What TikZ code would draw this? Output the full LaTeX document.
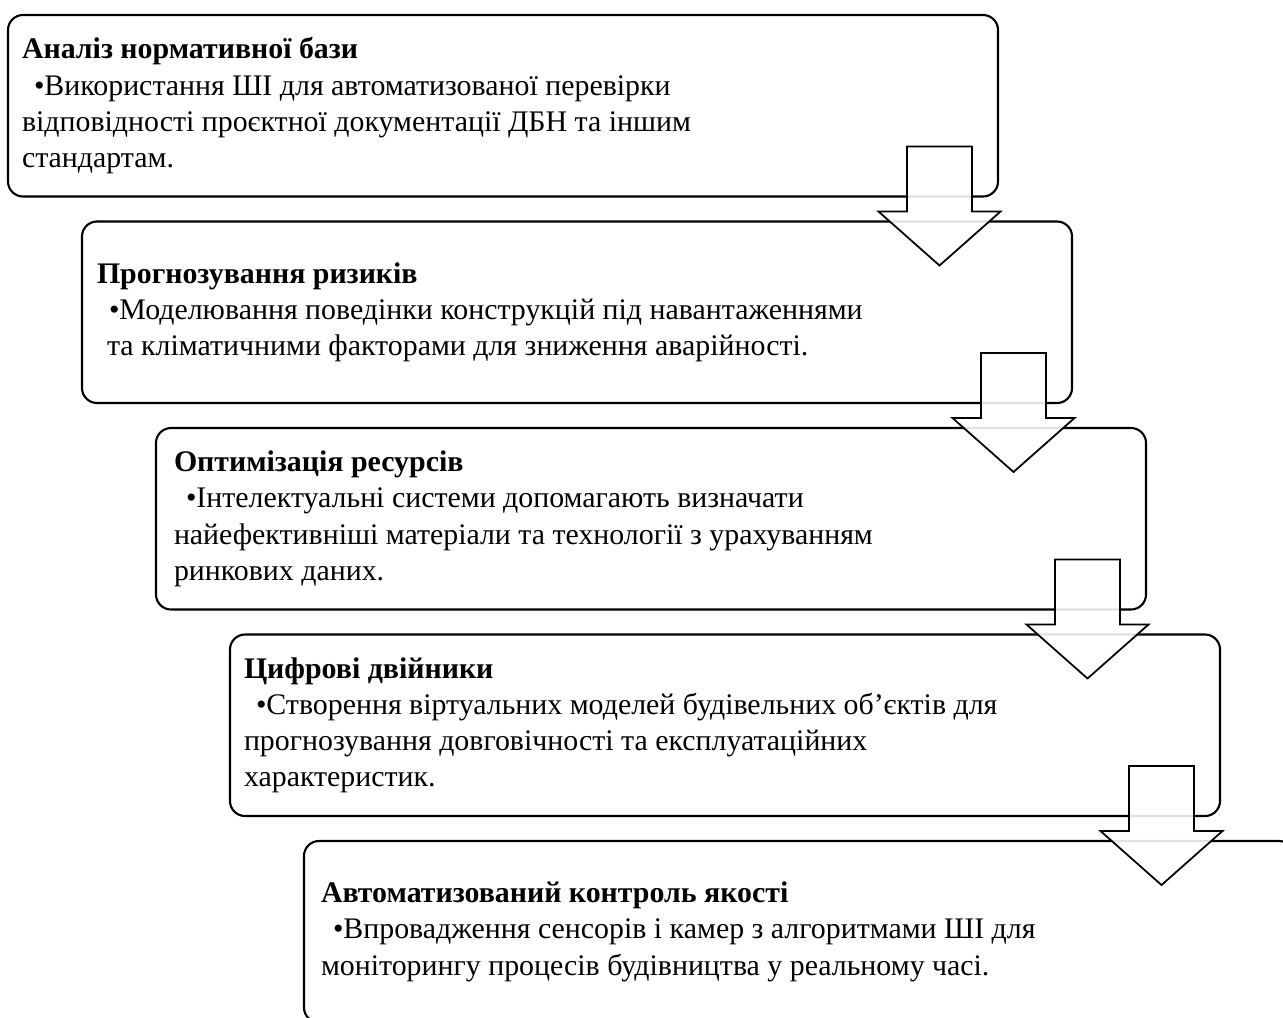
\documentclass[tikz,border=0pt]{standalone}
\usepackage{fontspec}
\setmainfont{Liberation Serif}
\usepackage{tikz}

\tikzstyle{stage} = [draw, line width=1.2pt, rounded corners=0.3cm, outer sep=0pt, inner sep=0pt,
    minimum width=19.8cm, minimum height=3.63cm, anchor=north west]
\tikzstyle{stagetext} = [anchor=west, align=left, inner sep=0pt, outer sep=0pt,
    font=\fontsize{17}{20.6}\selectfont]
\tikzstyle{downarrow} = [draw, line width=1pt, fill=white, fill opacity=0.88, line join=miter]
\newcommand{\bul}{\hspace*{0.24cm}•}
\newcommand{\stagearrow}[1]{
	\draw[downarrow] ([shift={(-1.82,1.0)}]#1.south east) -- ++(1.3,0) -- ++(0,-1.3) -- ++(0.57,0)
	    -- ++(-1.22,-1.08) -- ++(-1.22,1.08) -- ++(0.57,0) -- cycle;
}

\begin{document}
\begin{tikzpicture}
	\useasboundingbox (0,0) rectangle (25.66,-20.34);
	\clip (0,0) rectangle (25.66,-20.34);

	\node(stage1) at (0.16,-0.30) [stage] {};
	\node(stage2) at ([shift={(1.48,-0.5)}]stage1.south west) [stage] {};
	\node(stage3) at ([shift={(1.48,-0.5)}]stage2.south west) [stage] {};
	\node(stage4) at ([shift={(1.48,-0.5)}]stage3.south west) [stage] {};
	\node(stage5) at ([shift={(1.48,-0.5)}]stage4.south west) [stage] {};

	\node(text1) at ([xshift=0.28cm]stage1.west) [stagetext] {\textbf{Аналіз нормативної бази}\\
	    \bul Використання ШІ для автоматизованої перевірки\\
	    відповідності проєктної документації ДБН та іншим\\
	    стандартам.};

	\node(text2) at ([xshift=0.3cm]stage2.west) [stagetext] {\textbf{Прогнозування ризиків}\\
	    \bul Моделювання поведінки конструкцій під навантаженнями\\
	    \hspace*{0.2cm}та кліматичними факторами для зниження аварійності.};

	\node(text3) at ([xshift=0.36cm]stage3.west) [stagetext] {\textbf{Оптимізація ресурсів}\\
	    \bul Інтелектуальні системи допомагають визначати\\
	    найефективніші матеріали та технології з урахуванням\\
	    ринкових даних.};

	\node(text4) at ([xshift=0.28cm]stage4.west) [stagetext] {\textbf{Цифрові двійники}\\
	    \bul Створення віртуальних моделей будівельних об’єктів для\\
	    прогнозування довговічності та експлуатаційних\\
	    характеристик.};

	\node(text5) at ([xshift=0.34cm]stage5.west) [stagetext] {\textbf{Автоматизований контроль якості}\\
	    \bul Впровадження сенсорів і камер з алгоритмами ШІ для\\
	    моніторингу процесів будівництва у реальному часі.};

	% arrows on top of the boxes
	\stagearrow{stage1}
	\stagearrow{stage2}
	\stagearrow{stage3}
	\stagearrow{stage4}
\end{tikzpicture}
\end{document}
